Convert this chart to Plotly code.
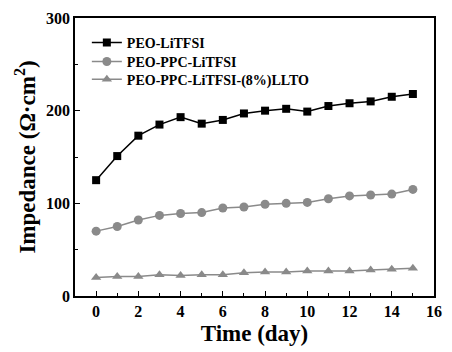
import plotly.graph_objects as go

days = list(range(16))
peo_litfsi = [125, 151, 173, 185, 193, 186, 190, 197, 200, 202, 199, 205, 208, 210, 215, 218]
peo_ppc_litfsi = [70, 75, 82, 87, 89, 90, 95, 96, 99, 100, 101, 105, 108, 109, 110, 115]
peo_ppc_llto = [20, 21, 21, 23, 22, 23, 23, 25, 26, 26, 27, 27, 27, 28, 29, 30]

font = "Liberation Serif, Times New Roman, serif"
fig = go.Figure()
fig.add_trace(go.Scatter(x=days, y=peo_litfsi, name="PEO-LiTFSI", mode="lines+markers",
                         line=dict(color="black", width=1.5), legend="legend",
                         marker=dict(symbol="square", size=8, color="black")))
fig.add_trace(go.Scatter(x=days, y=peo_ppc_litfsi, name="PEO-PPC-LiTFSI", mode="lines+markers",
                         line=dict(color="#8a8a8a", width=1.5), legend="legend2",
                         marker=dict(symbol="circle", size=9, color="#8a8a8a")))
fig.add_trace(go.Scatter(x=days, y=peo_ppc_llto, name="PEO-PPC-LiTFSI-(8%)LLTO", mode="lines+markers",
                         line=dict(color="#8a8a8a", width=1.5), legend="legend3",
                         marker=dict(symbol="triangle-up", size=9, color="#8a8a8a")))

axis_common = dict(showline=True, linecolor="black", linewidth=1.5, mirror=True,
                   ticks="inside", ticklen=5, tickwidth=1.2, tickcolor="black",
                   showgrid=False, zeroline=False,
                   tickfont=dict(family=font, size=16, color="black", weight="bold"))
fig.update_xaxes(range=[-1, 16], tickmode="array", tickvals=list(range(0, 17, 2)),
                 minor=dict(tickvals=list(range(1, 16, 2)), ticks="inside", ticklen=3, tickcolor="black"),
                 title=dict(text="Time (day)", font=dict(family=font, size=23, color="black", weight="bold"), standoff=6),
                 **axis_common)
fig.update_yaxes(range=[0, 300], tickmode="array", tickvals=[0, 100, 200, 300],
                 minor=dict(tickvals=[50, 150, 250], ticks="inside", ticklen=3, tickcolor="black"),
                 title=dict(text="Impedance (Ω·cm<sup>2</sup>)", font=dict(family=font, size=23, color="black", weight="bold"), standoff=4),
                 **axis_common)

def leg(yv):
    return dict(x=0.033, y=yv, xanchor="left", yanchor="middle",
                font=dict(family=font, size=14, color="black", weight="bold"),
                bgcolor="rgba(0,0,0,0)", itemwidth=30)

fig.update_layout(width=452, height=352, margin=dict(l=75, r=10, t=18, b=55),
                  plot_bgcolor="white", paper_bgcolor="white",
                  legend=leg(0.910), legend2=leg(0.842), legend3=leg(0.778),
                  showlegend=True)
fig.write_html("out.html", config={"displayModeBar": False},
               post_script="document.body.style.margin='0';document.body.style.overflow='hidden';")
